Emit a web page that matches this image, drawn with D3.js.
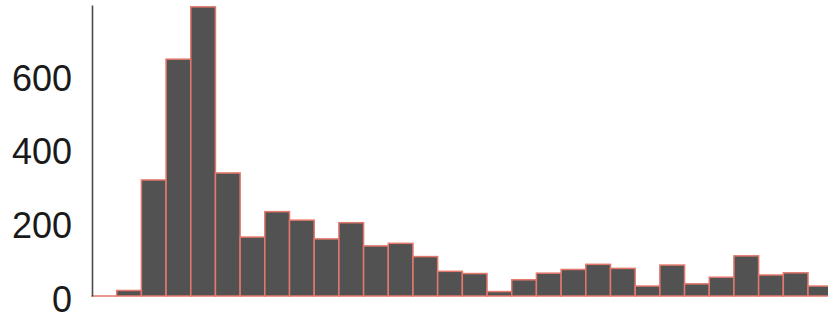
<!DOCTYPE html>
<html>
<head>
<meta charset="utf-8">
<script src="https://cdn.jsdelivr.net/npm/d3@7"></script>
<style>
  body { margin: 0; background: #fff; }
  .axis text { font-family: "Liberation Sans", Arial, sans-serif; font-size: 36px; fill: #1a1a1a; }
  .axis path { stroke: #4a4a4a; stroke-width: 1.6; }
</style>
</head>
<body>
<script>
// bin counts, left to right (last bin runs off the right edge)
var bins = d3.range(30);
var counts = [0, 15, 315, 643, 785, 334, 160, 229, 206, 155,
              199, 136, 143, 107, 67, 61, 12, 44, 62, 72,
              86, 75, 27, 84, 33, 51, 109, 57, 63, 27];
var yTicks = [0, 200, 400, 600];

var w = 828, h = 319;

var svg = d3.select("body")
    .append("svg")
    .attr("width", w)
    .attr("height", h);

// x scale: one band per bin, no gaps
var x = d3.scaleBand()
    .domain(bins)
    .range([92, 92 + 30 * 24.69])
    .padding(0);

var y = d3.scaleLinear()
    .domain([0, 790])
    .range([296, 5]);

// bars (empty bins still get a hairline so the stroke shows)
svg.selectAll(".bar")
    .data(counts)
    .enter()
    .append("rect")
    .attr("class", "bar")
    .attr("x", function(d, i){ return x(i); })
    .attr("y", function(d){ return y(d); })
    .attr("width", x.bandwidth())
    .attr("height", function(d){ return Math.max(y(0) - y(d), 0.01); })
    .style("fill", "#525252")
    .style("stroke", "#e5786c")
    .style("stroke-width", 1.5);

// y axis, labels only plus the domain line
var yAxis = d3.axisLeft(y)
    .tickValues(yTicks)
    .tickSize(0)
    .tickPadding(20)
    .tickFormat(d3.format("d"));

var axis = svg.append("g")
    .attr("class", "axis")
    .attr("transform", "translate(92, 0)")
    .call(yAxis);

axis.selectAll("text").attr("dy", "0.42em");
</script>
</body>
</html>
